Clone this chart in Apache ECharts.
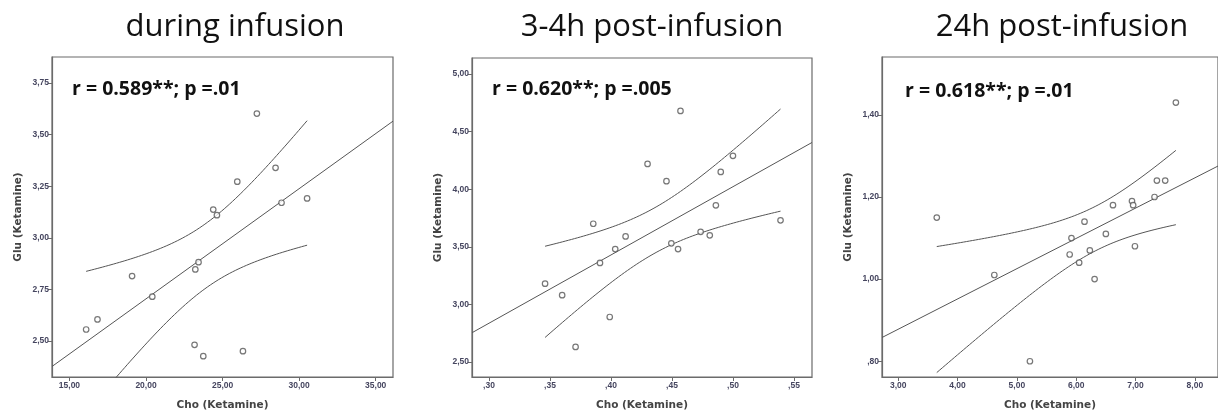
<!DOCTYPE html>
<html>
<head>
<meta charset="utf-8">
<script src="https://cdn.jsdelivr.net/npm/echarts@6/dist/echarts.min.js"></script>
<style>html,body{margin:0;padding:0;background:#fff}#c{width:1218px;height:416px}</style>
</head>
<body>
<div id="c"></div>
<script>
const titles = ['during infusion', '3-4h post-infusion', '24h post-infusion'];
const annotations = ['r = 0.589**; p =.01', 'r = 0.620**; p =.005', 'r = 0.618**; p =.01'];
const xAxisName = 'Cho (Ketamine)';
const yAxisName = 'Glu (Ketamine)';

const p1Cho = [16.09, 16.83, 19.09, 20.41, 23.22, 23.43, 24.39, 24.63, 25.96, 27.24, 28.46, 28.85, 30.52, 23.17, 23.74, 26.33];
const p1Glu = [2.556, 2.605, 2.815, 2.715, 2.847, 2.882, 3.137, 3.110, 3.272, 3.602, 3.339, 3.170, 3.191, 2.482, 2.427, 2.451];

const p2Cho = [0.346, 0.360, 0.371, 0.3855, 0.391, 0.399, 0.4035, 0.412, 0.430, 0.4455, 0.4495, 0.455, 0.457, 0.4735, 0.481, 0.486, 0.490, 0.500, 0.539];
const p2Glu = [3.18, 3.08, 2.63, 3.70, 3.36, 2.89, 3.48, 3.59, 4.22, 4.07, 3.53, 3.48, 4.68, 3.63, 3.60, 3.86, 4.15, 4.29, 3.73];

const p3Cho = [3.65, 4.62, 5.22, 5.89, 5.92, 6.05, 6.14, 6.23, 6.31, 6.50, 6.62, 6.94, 6.96, 6.99, 7.32, 7.36, 7.50, 7.68];
const p3Glu = [1.15, 1.01, 0.80, 1.06, 1.10, 1.04, 1.14, 1.07, 1.00, 1.11, 1.18, 1.19, 1.18, 1.08, 1.20, 1.24, 1.24, 1.43];

const p1XTicks = [15, 20, 25, 30, 35];
const p1YTicks = [2.50, 2.75, 3.00, 3.25, 3.50, 3.75];
const p2XTicks = [0.30, 0.35, 0.40, 0.45, 0.50, 0.55];
const p2YTicks = [2.50, 3.00, 3.50, 4.00, 4.50, 5.00];
const p3XTicks = [3, 4, 5, 6, 7, 8];
const p3YTicks = [0.80, 1.00, 1.20, 1.40];

// two-sided 95% t critical values by degrees of freedom
const tCrit = {12: 2.179, 13: 2.160, 14: 2.145, 15: 2.131, 16: 2.120, 17: 2.110, 18: 2.101, 19: 2.093, 20: 2.086};

const panels = [
  {x: p1Cho, y: p1Glu, xt: p1XTicks, yt: p1YTicks, xr: [13.86, 36.13], yr: [2.326, 3.876], grid: {left: 52, top: 57, width: 341, height: 325}},
  {x: p2Cho, y: p2Glu, xt: p2XTicks, yt: p2YTicks, xr: [0.2861, 0.5648], yr: [2.369, 5.14], grid: {left: 472, top: 58, width: 340, height: 324}},
  {x: p3Cho, y: p3Glu, xt: p3XTicks, yt: p3YTicks, xr: [2.727, 8.39], yr: [0.7616, 1.541], grid: {left: 882, top: 57, width: 346, height: 324}}
];

function fmt(v) {
  let s = v.toFixed(2).replace('.', ',');
  if (s.startsWith('0,')) s = s.slice(1);
  return s;
}

function fit(xs, ys) {
  const n = xs.length;
  const mx = xs.reduce((a, b) => a + b, 0) / n;
  const my = ys.reduce((a, b) => a + b, 0) / n;
  let sxx = 0, sxy = 0;
  for (let i = 0; i < n; i++) { sxx += (xs[i] - mx) ** 2; sxy += (xs[i] - mx) * (ys[i] - my); }
  const b = sxy / sxx, a = my - b * mx;
  let sse = 0;
  for (let i = 0; i < n; i++) sse += (ys[i] - a - b * xs[i]) ** 2;
  const s = Math.sqrt(sse / (n - 2));
  return {a, b, s, n, mx, sxx, t: tCrit[n - 2]};
}

const grids = [], xAxes = [], yAxes = [], series = [], titleArr = [], graphics = [];
const lineStyle = {color: '#555', width: 1};
const centers = [230, 647, 1057];
const annPos = [[72, 79], [492, 79], [905, 81]];
const tickFont = {fontSize: 8.5, fontFamily: 'Liberation Sans', fontWeight: 'bold', color: '#45455f'};

panels.forEach((p, i) => {
  grids.push(Object.assign({show: true, borderColor: '#6b6b6b', borderWidth: 1.2, backgroundColor: 'transparent'}, p.grid));
  xAxes.push({
    type: 'value', gridIndex: i, min: p.xr[0], max: p.xr[1],
    name: xAxisName, nameLocation: 'middle', nameGap: 23,
    nameTextStyle: {fontFamily: 'DejaVu Sans', fontWeight: 'bold', fontSize: 10.5, color: '#444'},
    axisLine: {show: true, lineStyle: {color: '#6b6b6b', width: 1.2}},
    axisTick: {show: true, length: 4, customValues: p.xt, lineStyle: {color: '#6b6b6b'}},
    axisLabel: Object.assign({customValues: p.xt, formatter: fmt, margin: 4}, tickFont),
    splitLine: {show: false}
  });
  yAxes.push({
    type: 'value', gridIndex: i, min: p.yr[0], max: p.yr[1],
    name: yAxisName, nameLocation: 'middle', nameGap: 28, nameRotate: 90,
    nameTextStyle: {fontFamily: 'DejaVu Sans', fontWeight: 'bold', fontSize: 10.5, color: '#444'},
    axisLine: {show: true, lineStyle: {color: '#6b6b6b', width: 1.2}},
    axisTick: {show: true, length: 4, customValues: p.yt, lineStyle: {color: '#6b6b6b'}},
    axisLabel: Object.assign({customValues: p.yt, formatter: fmt, margin: 3}, tickFont),
    splitLine: {show: false}
  });
  const f = fit(p.x, p.y);
  const xmin = Math.min(...p.x), xmax = Math.max(...p.x);
  const fitLine = [[p.xr[0], f.a + f.b * p.xr[0]], [p.xr[1], f.a + f.b * p.xr[1]]];
  const upper = [], lower = [];
  const steps = 80;
  for (let k = 0; k <= steps; k++) {
    const x = xmin + (xmax - xmin) * k / steps;
    const yh = f.a + f.b * x;
    const se = f.s * Math.sqrt(1 / f.n + (x - f.mx) ** 2 / f.sxx);
    upper.push([x, yh + f.t * se]);
    lower.push([x, yh - f.t * se]);
  }
  [fitLine, upper, lower].forEach(d => series.push({
    type: 'line', xAxisIndex: i, yAxisIndex: i, data: d, showSymbol: false, symbol: 'none',
    lineStyle: lineStyle, clip: true, silent: true, animation: false, z: 2
  }));
  series.push({
    type: 'scatter', xAxisIndex: i, yAxisIndex: i,
    data: p.x.map((v, k) => [v, p.y[k]]),
    symbol: 'circle', symbolSize: 5.5,
    itemStyle: {color: '#fff', borderColor: '#555', borderWidth: 1.2},
    animation: false, z: 3
  });
  titleArr.push({
    text: titles[i], left: centers[i], top: 7, textAlign: 'center',
    textStyle: {fontFamily: 'Open Sans', fontWeight: 'normal', fontSize: 31, color: '#111'}
  });
  graphics.push({
    type: 'text', left: annPos[i][0], top: annPos[i][1],
    style: {text: annotations[i], font: 'bold 19.5px "Open Sans"', fill: '#111'}
  });
});

const chart = echarts.init(document.getElementById('c'), null, {renderer: 'canvas'});
chart.setOption({
  animation: false,
  title: titleArr,
  grid: grids,
  xAxis: xAxes,
  yAxis: yAxes,
  series: series,
  graphic: graphics
});
</script>
</body>
</html>
